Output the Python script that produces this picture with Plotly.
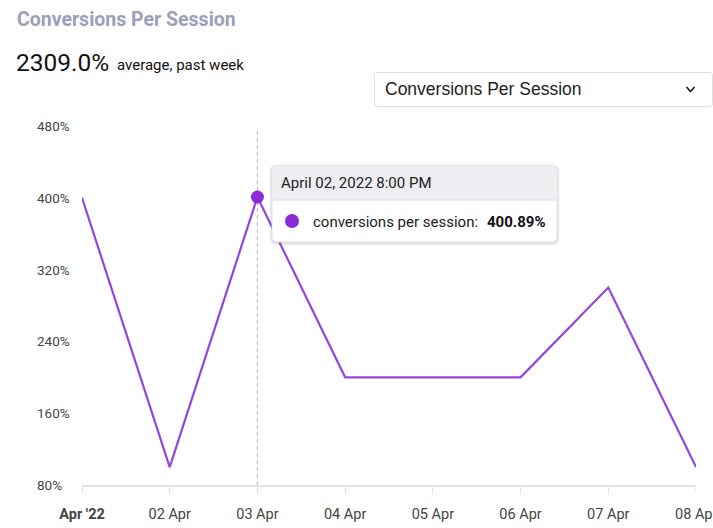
import plotly.graph_objects as go

dates = ["2022-04-01", "2022-04-02", "2022-04-03", "2022-04-04",
         "2022-04-05", "2022-04-06", "2022-04-07", "2022-04-08"]
values = [400, 100, 400.89, 200, 200, 200, 300, 100]
tick_labels = ["Apr '22", "02 Apr", "03 Apr", "04 Apr", "05 Apr", "06 Apr", "07 Apr", "08 Apr"]
y_ticks = [80, 160, 240, 320, 400, 480]
hover_index = 2
hover_label = "April 02, 2022 8:00 PM"
series_name = "conversions per session"
title_text = "Conversions Per Session"
avg_text = "2309.0%"
avg_sub = "average, past week"

W, H = 713, 528
L, R, T, B = 82, 17, 126, 43
PW, PH = W - L - R, H - T - B

def px(x):
    return (x - L) / PW

def py(y):
    return (H - B - y) / PH

def rrect(x0, y0, x1, y1, r):
    pts = [
        f"M {px(x0 + r)},{py(y0)}",
        f"L {px(x1 - r)},{py(y0)}",
        f"Q {px(x1)},{py(y0)} {px(x1)},{py(y0 + r)}",
        f"L {px(x1)},{py(y1 - r)}",
        f"Q {px(x1)},{py(y1)} {px(x1 - r)},{py(y1)}",
        f"L {px(x0 + r)},{py(y1)}",
        f"Q {px(x0)},{py(y1)} {px(x0)},{py(y1 - r)}",
        f"L {px(x0)},{py(y0 + r)}",
        f"Q {px(x0)},{py(y0)} {px(x0 + r)},{py(y0)}",
        "Z",
    ]
    return " ".join(pts)

def rtop(x0, y0, x1, y1, r):
    pts = [
        f"M {px(x0)},{py(y1)}",
        f"L {px(x0)},{py(y0 + r)}",
        f"Q {px(x0)},{py(y0)} {px(x0 + r)},{py(y0)}",
        f"L {px(x1 - r)},{py(y0)}",
        f"Q {px(x1)},{py(y0)} {px(x1)},{py(y0 + r)}",
        f"L {px(x1)},{py(y1)}",
        "Z",
    ]
    return " ".join(pts)

LINE_COLOR = "#9545de"
MARK_COLOR = "#8a2bd6"
FONT = "Roboto"
TICK_FONT = dict(family=FONT, size=14.5, color="#444444")

fig = go.Figure()
fig.add_trace(go.Scatter(
    x=dates, y=values, mode="lines",
    line=dict(color=LINE_COLOR, width=2.2),
    cliponaxis=False, hoverinfo="skip", showlegend=False,
))
fig.add_trace(go.Scatter(
    x=[dates[hover_index]], y=[values[hover_index]], mode="markers",
    marker=dict(color=MARK_COLOR, size=13, line=dict(width=0)),
    cliponaxis=False, hoverinfo="skip", showlegend=False,
))

shapes = []
# hover dashed line
shapes.append(dict(type="line", xref="x", yref="paper",
                   x0=dates[hover_index], x1=dates[hover_index], y0=0, y1=py(128),
                   line=dict(color="#c4c4c4", width=1.2, dash="4px,3px"), layer="below"))
# dropdown box
shapes.append(dict(type="path", xref="paper", yref="paper",
                   path=rrect(374.5, 72.5, 712.5, 106.5, 3),
                   line=dict(color="#dfdfdf", width=1), fillcolor="white"))
# chevron
shapes.append(dict(type="path", xref="paper", yref="paper",
                   path=f"M {px(686.5)},{py(87)} L {px(690.5)},{py(91.5)} L {px(694.5)},{py(87)}",
                   line=dict(color="#222222", width=1.8)))
# tooltip shadow
for i, a in enumerate([0.05, 0.04, 0.03]):
    d = i + 1
    shapes.append(dict(type="path", xref="paper", yref="paper",
                       path=rrect(272 - d, 166 - d + 1, 557 + d, 242 + d + 1, 5 + d),
                       line=dict(width=0), fillcolor=f"rgba(0,0,0,{a})"))
# tooltip body
shapes.append(dict(type="path", xref="paper", yref="paper",
                   path=rrect(272, 166, 557, 242, 5),
                   line=dict(color="#e2e2e2", width=1), fillcolor="white"))
shapes.append(dict(type="path", xref="paper", yref="paper",
                   path=rtop(272.5, 166.5, 556.5, 200, 5),
                   line=dict(width=0), fillcolor="#eceef1"))
shapes.append(dict(type="line", xref="paper", yref="paper",
                   x0=px(272.5), x1=px(556.5), y0=py(200), y1=py(200),
                   line=dict(color="#dcdcdc", width=1)))
shapes.append(dict(type="circle", xref="paper", yref="paper",
                   x0=px(285), x1=px(299), y0=py(214), y1=py(228),
                   line=dict(width=0), fillcolor=MARK_COLOR))

annotations = []
annotations.append(dict(xref="paper", yref="paper", x=px(15), y=py(19),
                        xanchor="left", yanchor="middle", showarrow=False,
                        text=f"<b>{title_text}</b>",
                        font=dict(family=FONT, size=19.5, color="#9aa0b8")))
annotations.append(dict(xref="paper", yref="paper", x=px(14), y=py(62),
                        xanchor="left", yanchor="middle", showarrow=False,
                        text=avg_text, font=dict(family=FONT, size=24.5, color="#111111")))
annotations.append(dict(xref="paper", yref="paper", x=px(115), y=py(65),
                        xanchor="left", yanchor="middle", showarrow=False,
                        text=avg_sub, font=dict(family=FONT, size=15, color="#111111")))
annotations.append(dict(xref="paper", yref="paper", x=px(383), y=py(89),
                        xanchor="left", yanchor="middle", showarrow=False,
                        text=title_text, font=dict(family="Liberation Sans", size=17.5, color="#222222")))
annotations.append(dict(xref="paper", yref="paper", x=px(279), y=py(183),
                        xanchor="left", yanchor="middle", showarrow=False,
                        text=hover_label, font=dict(family=FONT, size=15, color="#222222")))
annotations.append(dict(xref="paper", yref="paper", x=px(311), y=py(222),
                        xanchor="left", yanchor="middle", showarrow=False,
                        text=f"{series_name}:", font=dict(family=FONT, size=15, color="#222222")))
annotations.append(dict(xref="paper", yref="paper", x=px(485), y=py(222),
                        xanchor="left", yanchor="middle", showarrow=False,
                        text=f"<b>{values[hover_index]:.2f}%</b>",
                        font=dict(family=FONT, size=15, color="#111111")))
for v in y_ticks:
    annotations.append(dict(xref="paper", yref="y", x=px(35), y=v,
                            xanchor="left", yanchor="middle", showarrow=False,
                            text=f"{v}%", font=dict(family=FONT, size=13.5, color="#444444")))
# last x tick label (at the right edge, partly cut off by the page)
annotations.append(dict(xref="x", yref="paper", x=dates[-1], y=py(514),
                        xanchor="center", yanchor="middle", showarrow=False,
                        text=tick_labels[-1], font=TICK_FONT))

fig.update_layout(
    width=W, height=H,
    margin=dict(l=L, r=R, t=T, b=B, autoexpand=False),
    paper_bgcolor="white", plot_bgcolor="white",
    showlegend=False,
    shapes=shapes, annotations=annotations,
    xaxis=dict(
        type="date", range=[dates[0], dates[-1]],
        tickvals=dates[:-1],
        ticktext=[f"<b>{t}</b>" if i == 0 else t for i, t in enumerate(tick_labels[:-1])],
        showgrid=False, zeroline=False, automargin=False,
        showline=True, linecolor="#e3e3e3", linewidth=1.5,
        ticks="outside", ticklen=7, tickcolor="#e3e3e3", tickwidth=1.2,
        tickfont=TICK_FONT,
        ticklabelstandoff=8,
    ),
    yaxis=dict(
        range=[80, 480], tickvals=y_ticks, showticklabels=False, automargin=False,
        showgrid=False, zeroline=False, showline=False,
    ),
)
# tick mark for the last date
fig.add_shape(type="line", xref="x", yref="paper", x0=dates[-1], x1=dates[-1],
              y0=0, y1=py(H - B + 7), line=dict(color="#e3e3e3", width=1.2))
fig.write_html("out.html")
